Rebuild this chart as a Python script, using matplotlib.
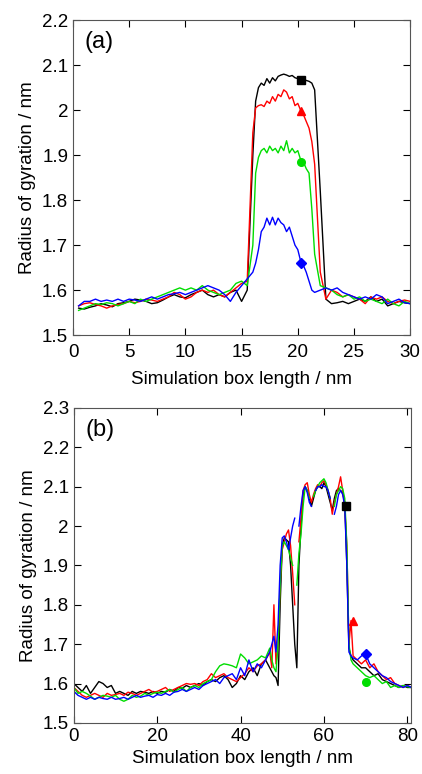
import numpy as np
import matplotlib
matplotlib.use("Agg")
import matplotlib.pyplot as plt

nan = np.nan

# ---- panel (a): 30 nm box, finer sampling on the plateau ----
x_a = np.concatenate([np.arange(0.5, 15.51, 0.5), np.arange(16, 21.51, 0.25), np.arange(22, 30.01, 0.5)])
black_a = [1.560, 1.558, 1.562, 1.565, 1.570, 1.567, 1.563, 1.570, 1.572, 1.575,
           1.580, 1.578, 1.575, 1.570, 1.572, 1.578, 1.585, 1.590, 1.585, 1.583,
           1.590, 1.595, 1.600, 1.590, 1.585, 1.590, 1.585, 1.595, 1.600, 1.575, 1.600,
           1.900, 2.020, 2.050, 2.060, 2.055, 2.070, 2.060, 2.072, 2.065, 2.075,
           2.078, 2.080, 2.078, 2.075, 2.077, 2.072, 2.070, 2.068, 2.067, 2.066,
           2.064, 2.060, 2.045,
           1.820, 1.580, 1.570, 1.572, 1.575, 1.570, 1.575, 1.580, 1.575, 1.585,
           1.575, 1.580, 1.565, 1.570, 1.575, 1.572, 1.570]
red_a = [1.565, 1.570, 1.572, 1.568, 1.565, 1.560, 1.565, 1.568, 1.570, 1.575,
         1.572, 1.575, 1.580, 1.578, 1.575, 1.580, 1.585, 1.595, 1.590, 1.580,
         1.585, 1.595, 1.600, 1.595, 1.600, 1.590, 1.585, 1.595, 1.605, 1.615, 1.620,
         1.950, 2.005, 2.010, 2.012, 2.008, 2.020, 2.015, 2.030, 2.020, 2.035,
         2.030, 2.045, 2.040, 2.025, 2.030, 2.010, 2.015, 2.000, 1.990, 1.975,
         1.960, 1.930, 1.880,
         1.640, 1.580, 1.600, 1.595, 1.585, 1.590, 1.585, 1.580, 1.570, 1.585,
         1.580, 1.585, 1.575, 1.570, 1.575, 1.578, 1.575]
green_a = [1.555, 1.560, 1.565, 1.570, 1.568, 1.572, 1.570, 1.565, 1.570, 1.575,
           1.570, 1.580, 1.575, 1.580, 1.585, 1.590, 1.595, 1.600, 1.605, 1.600,
           1.605, 1.600, 1.610, 1.600, 1.595, 1.590, 1.595, 1.600, 1.615, 1.620, 1.610,
           1.700, 1.860, 1.895, 1.910, 1.915, 1.905, 1.920, 1.910, 1.915, 1.905,
           1.920, 1.910, 1.932, 1.905, 1.915, 1.905, 1.910, 1.890, 1.885, 1.870,
           1.860, 1.780, 1.680,
           1.610, 1.605, 1.600, 1.590, 1.585, 1.590, 1.580, 1.585, 1.575, 1.580,
           1.575, 1.570, 1.580, 1.570, 1.565, 1.575, 1.570]
blue_a = [1.565, 1.575, 1.575, 1.580, 1.575, 1.578, 1.575, 1.580, 1.575, 1.580,
          1.578, 1.575, 1.580, 1.585, 1.580, 1.585, 1.590, 1.592, 1.595, 1.590,
          1.595, 1.600, 1.605, 1.610, 1.605, 1.600, 1.590, 1.575, 1.595, 1.610, 1.625,
          1.640, 1.660, 1.690, 1.730, 1.740, 1.760, 1.745, 1.762, 1.745, 1.760,
          1.750, 1.745, 1.730, 1.740, 1.720, 1.700, 1.690, 1.665, 1.655, 1.640,
          1.620, 1.600, 1.595,
          1.600, 1.605, 1.600, 1.605, 1.595, 1.590, 1.585, 1.580, 1.585, 1.580,
          1.590, 1.585, 1.570, 1.575, 1.580, 1.572, 1.570]
mark_x_a = [20.3, 20.3, 20.3, 20.3]
mark_y_a = [2.068, 1.998, 1.885, 1.660]

# ---- panel (b): 81 nm box, finer sampling around the peak ----
x_b = np.concatenate([np.arange(0, 47.01, 1.0), np.arange(47.5, 67.01, 0.5), np.arange(68, 81.01, 1.0)])
black_b = [1.600, 1.590, 1.580, 1.595, 1.575, 1.590, 1.605, 1.600, 1.590, 1.595,
           1.575, 1.580, 1.575, 1.570, 1.580, 1.575, 1.580, 1.578, 1.575, 1.580,
           1.575, 1.580, 1.578, 1.585, 1.580, 1.590, 1.588, 1.595, 1.590, 1.595,
           1.600, 1.595, 1.605, 1.610, 1.605, 1.615, 1.620, 1.610, 1.590, 1.600,
           1.620, 1.610, 1.630, 1.640, 1.620, 1.650, 1.660, 1.640,
           1.630, 1.620, 1.615, 1.595, 1.800, 1.950, 1.970, 1.965, 1.960, 1.900,
           1.800, 1.700, 1.640, 1.900, 2.000, 2.080, 2.100, 2.090, 2.070, 2.050,
           2.070, 2.090, 2.100, 2.100, 2.095, 2.110, 2.100, 2.080, 2.060, 2.040,
           2.070, 2.090, 2.095, 2.090, 2.085, 2.060, 1.900, 1.690, 1.670, 1.660,
           1.650, 1.640, 1.640, 1.630, 1.620, 1.625, 1.610, 1.605, 1.600, 1.595,
           1.590, 1.595, 1.590, 1.590]
red_b = [1.590, 1.580, 1.570, 1.565, 1.570, 1.575, 1.570, 1.565, 1.575, 1.570,
         1.572, 1.575, 1.570, 1.578, 1.575, 1.570, 1.575, 1.580, 1.585, 1.578,
         1.580, 1.585, 1.590, 1.580, 1.585, 1.590, 1.595, 1.600, 1.598, 1.600,
         1.595, 1.605, 1.610, 1.625, 1.615, 1.620, 1.625, 1.615, 1.610, 1.605,
         1.615, 1.625, 1.640, 1.630, 1.645, 1.650, 1.660, 1.680,
         1.640, 1.800, 1.650, 1.700, 1.850, 1.940, 1.960, 1.980, 1.990, 1.950,
         1.880, 1.800, nan, 1.960, 2.020, 2.090, 2.105, 2.110, 2.080, 2.060,
         2.080, 2.095, 2.105, 2.100, 2.110, 2.115, 2.105, 2.090, 2.070, 2.030,
         2.060, 2.080, 2.100, 2.125, 2.090, 2.050, 1.950, 1.700, 1.760, 1.670,
         1.660, 1.650, 1.660, 1.640, 1.650, 1.630, 1.620, 1.610, 1.615, 1.600,
         1.595, 1.590, 1.595, 1.590]
green_b = [1.590, 1.575, 1.580, 1.575, 1.568, 1.560, 1.565, 1.570, 1.568, 1.565,
           1.570, 1.560, 1.555, 1.560, 1.570, 1.565, 1.568, 1.575, 1.570, 1.575,
           1.578, 1.575, 1.580, 1.585, 1.578, 1.585, 1.590, 1.580, 1.590, 1.595,
           1.590, 1.600, 1.605, 1.610, 1.630, 1.645, 1.650, 1.648, 1.645, 1.640,
           1.675, 1.665, 1.650, 1.655, 1.660, 1.670, 1.665, 1.690,
           1.660, 1.640, 1.630, 1.700, 1.850, 1.950, 1.960, 1.950, 1.940, 1.920,
           1.900, nan, 1.850, 1.930, 1.980, 2.050, 2.100, 2.090, 2.070, nan,
           2.075, 2.090, 2.100, 2.110, 2.115, 2.120, 2.110, 2.090, 2.070, nan,
           2.050, 2.080, 2.090, 2.100, 2.095, 2.070, 1.950, 1.700, 1.660, 1.650,
           1.640, 1.630, 1.620, 1.615, 1.620, 1.610, 1.600, 1.605, 1.590, 1.595,
           1.590, 1.595, 1.592, 1.590]
blue_b = [1.580, 1.570, 1.565, 1.560, 1.565, 1.560, 1.565, 1.562, 1.560, 1.565,
          1.560, 1.562, 1.565, 1.560, 1.565, 1.570, 1.565, 1.568, 1.570, 1.565,
          1.572, 1.570, 1.575, 1.570, 1.578, 1.580, 1.585, 1.580, 1.585, 1.590,
          1.585, 1.595, 1.600, 1.605, 1.610, 1.600, 1.615, 1.620, 1.625, 1.610,
          1.640, 1.620, 1.660, 1.630, 1.650, 1.640, 1.660, 1.680,
          1.700, 1.720, 1.680, 1.750, 1.900, 1.970, 1.975, 1.960, 1.940, 1.970,
          2.000, 2.020, nan, 2.000, 2.050, 2.090, 2.100, 2.085, 2.060, 2.050,
          nan, 2.090, 2.100, 2.100, 2.105, 2.100, 2.100, 2.090, 2.070, nan,
          2.030, 2.050, 2.080, 2.090, 2.080, 2.050, 1.900, 1.680, 1.670, 1.665,
          1.660, 1.670, 1.675, 1.650, 1.640, 1.630, 1.620, 1.615, 1.605, 1.600,
          1.595, 1.590, 1.595, 1.590]
mark_x_b = [65.3, 67.0, 70.0, 70.0]
mark_y_b = [2.050, 1.760, 1.605, 1.675]

colors = ['black', 'red', '#00dd00', 'blue']
markers = ['s', '^', 'o', 'D']

plt.rcParams['font.family'] = ['Liberation Sans', 'DejaVu Sans']

fig = plt.figure(figsize=(4.22, 7.74), dpi=100)
ax1 = fig.add_axes([0.173, 0.567, 0.799, 0.407])
ax2 = fig.add_axes([0.175, 0.066, 0.800, 0.407])


def draw(ax, x, series, mx, my, xlim, ylim, xticks, yticks, label, xpad, lpad):
    for y, c in zip(series, colors):
        ax.plot(x, y, color=c, lw=1.0)
    for i in range(4):
        ax.plot(mx[i], my[i], marker=markers[i], color=colors[i], ms=5.5 if markers[i] != 'D' else 5, ls='none')
    ax.set_xlim(*xlim)
    ax.set_ylim(*ylim)
    ax.set_xticks(xticks)
    ax.set_yticks(yticks)
    ax.set_xticklabels(['%g' % t for t in xticks])
    ax.set_yticklabels(['%g' % round(t, 1) for t in yticks])
    ax.tick_params(direction='in', top=True, right=True, length=5, labelsize=13.5, width=0.8)
    ax.tick_params(axis='x', pad=xpad)
    ax.set_xlabel('Simulation box length / nm', fontsize=13.5, labelpad=lpad)
    ax.set_ylabel('Radius of gyration / nm', fontsize=13.5, labelpad=4)
    ax.text(0.035, 0.965, label, transform=ax.transAxes, fontsize=17, va='top', ha='left')
    for s in ax.spines.values():
        s.set_linewidth(0.8)
        s.set_color('#555555')


draw(ax1, x_a, [black_a, red_a, green_a, blue_a], mark_x_a, mark_y_a,
     (0, 30), (1.5, 2.2), [0, 5, 10, 15, 20, 25, 30], np.arange(1.5, 2.21, 0.1), '(a)', 6.5, 7)
draw(ax2, x_b, [black_b, red_b, green_b, blue_b], mark_x_b, mark_y_b,
     (0, 81), (1.5, 2.3), [0, 20, 40, 60, 80], np.arange(1.5, 2.31, 0.1), '(b)', 3.5, 4)

fig.savefig('out.png', dpi=100)
